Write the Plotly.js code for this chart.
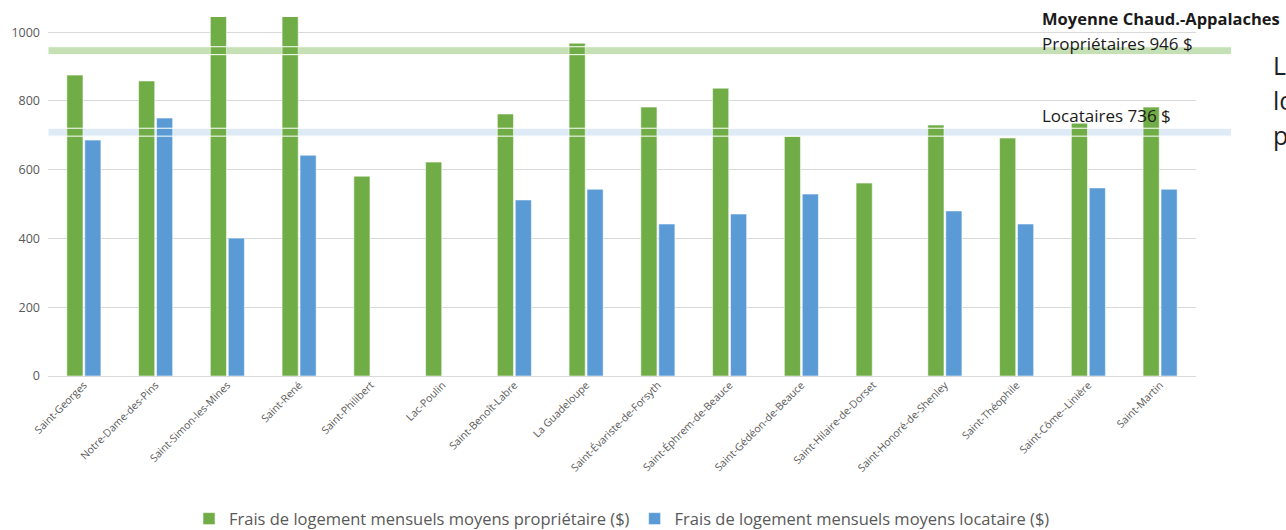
<!DOCTYPE html>
<html>
<head>
<meta charset="utf-8">
<script src="https://cdn.plot.ly/plotly-3.0.1.min.js"></script>
<style>html,body{margin:0;padding:0;background:#fff;}#chart{width:1286px;height:530px;}</style>
</head>
<body>
<div id="chart"></div>
<script>
const categories = ["Saint-Georges","Notre-Dame-des-Pins","Saint-Simon-les-Mines","Saint-René","Saint-Philibert","Lac-Poulin","Saint-Benoît-Labre","La Guadeloupe","Saint-Évariste-de-Forsyth","Saint-Éphrem-de-Beauce","Saint-Gédéon-de-Beauce","Saint-Hilaire-de-Dorset","Saint-Honoré-de-Shenley","Saint-Théophile","Saint-Côme--Linière","Saint-Martin"];
const proprietaire = [875, 858, 1060, 1060, 581, 622, 762, 968, 782, 837, 697, 561, 730, 692, 735, 782];
const locataire = [686, 750, 401, 642, null, null, 512, 543, 442, 471, 529, null, 480, 442, 547, 543];
const seriesNames = ["Frais de logement mensuels moyens propriétaire ($)", "Frais de logement mensuels moyens locataire ($)"];
const yTicks = [0, 200, 400, 600, 800, 1000];
const bandLevels = [946, 709];
const avgTitle = "Moyenne Chaud.-Appalaches";
const avgLabels = ["Propriétaires 946 $", "Locataires 736 $"];
const sideText = ["L", "lo", "p"];

const font = "Open Sans, Noto Sans, sans-serif";
const green = "#70ad47", blue = "#5b9bd5";

const traces = [
  {type: "bar", name: seriesNames[0], x: categories, y: proprietaire,
   marker: {color: green, line: {color: "rgba(255,255,255,0.55)", width: 1}}, hoverinfo: "none"},
  {type: "bar", name: seriesNames[1], x: categories, y: locataire,
   marker: {color: blue, line: {color: "rgba(255,255,255,0.55)", width: 1}}, hoverinfo: "none"}
];

const bandH = 11.5;
const bandColors = ["#c5e0b4", "#deebf7"];
const shapes = [];
bandLevels.forEach((v, i) => {
  shapes.push({type: "rect", xref: "paper", yref: "y", x0: 0, x1: 1.031, y0: v - bandH, y1: v + bandH,
    fillcolor: bandColors[i], line: {width: 0}, layer: "below"});
  shapes.push({type: "rect", xref: "paper", yref: "y", x0: 0, x1: 1.031, y0: v - bandH, y1: v + bandH,
    fillcolor: "rgba(0,0,0,0)", line: {width: 1, color: "#ffffff"}, layer: "above"});
});

const annotations = [
  {text: "<b>" + avgTitle + "</b>", xref: "paper", yref: "paper", x: 0.864, y: 0.997, xanchor: "left", yanchor: "middle",
   showarrow: false, font: {family: font, size: 16.5, color: "#1a1a1a"}},
  {text: avgLabels[0], xref: "paper", yref: "paper", x: 0.864, y: 0.925, xanchor: "left", yanchor: "middle",
   showarrow: false, font: {family: font, size: 17, color: "#1a1a1a"}},
  {text: avgLabels[1], xref: "paper", yref: "paper", x: 0.864, y: 0.727, xanchor: "left", yanchor: "middle",
   showarrow: false, font: {family: font, size: 17, color: "#1a1a1a"}}
];
const sideY = [0.866, 0.769, 0.671];
sideText.forEach((t, i) => {
  annotations.push({text: t, xref: "paper", yref: "paper", x: 1.065, y: sideY[i], xanchor: "left", yanchor: "middle",
    showarrow: false, font: {family: font, size: 25, color: "#1f1f1f"}});
});

const layout = {
  width: 1286, height: 530,
  margin: {l: 48, r: 90, t: 17, b: 154},
  paper_bgcolor: "#ffffff", plot_bgcolor: "#ffffff",
  barmode: "group", bargap: 0.5, bargroupgap: 0.1,
  font: {family: font, color: "#595959"},
  xaxis: {type: "category", tickangle: -45, tickfont: {size: 10.5, color: "#595959", family: font},
    showgrid: false, showline: false, ticks: "", automargin: false},
  yaxis: {range: [0, 1044], tickvals: yTicks, ticktext: yTicks.map(String), gridcolor: "#d9d9d9", gridwidth: 1,
    zeroline: true, zerolinecolor: "#d9d9d9", zerolinewidth: 1, showline: false, ticks: "",
    tickfont: {size: 12.5, color: "#595959", family: font}, ticklabelstandoff: 7, automargin: false, fixedrange: true},
  showlegend: true,
  legend: {orientation: "h", x: 0.5, xanchor: "center", xref: "paper", yref: "container", y: 0.021, yanchor: "middle",
    font: {size: 16.5, color: "#595959", family: font}, itemwidth: 30},
  shapes: shapes,
  annotations: annotations
};

Plotly.newPlot("chart", traces, layout, {displayModeBar: false, staticPlot: true});
</script>
</body>
</html>
